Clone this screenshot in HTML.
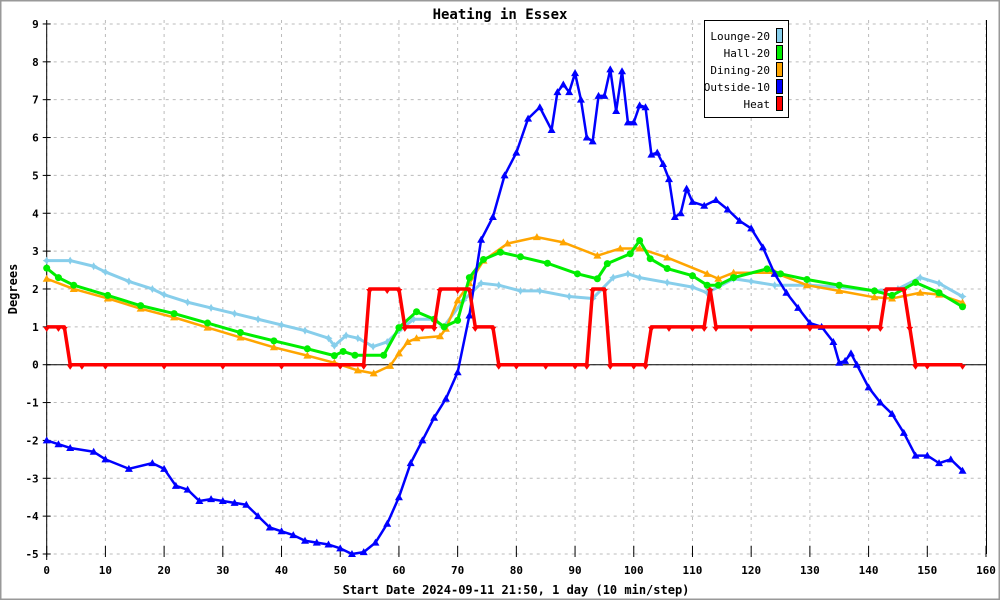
<!DOCTYPE html>
<html><head><meta charset="utf-8"><style>
body{margin:0;background:#fff;}
svg{display:block;font-family:"DejaVu Sans Mono","Liberation Mono",monospace;}
</style></head><body>
<svg id="chart" width="1000" height="600" viewBox="0 0 1000 600">
<rect x="0.5" y="0.5" width="999" height="599" fill="#fff" stroke="#999" stroke-width="2"/>
<text x="500" y="19" text-anchor="middle" font-size="14" font-weight="bold">Heating in Essex</text>
<text transform="translate(17,289) rotate(-90)" text-anchor="middle" font-size="12" font-weight="bold">Degrees</text>
<text x="516" y="594" text-anchor="middle" font-size="12" font-weight="bold">Start Date 2024-09-11 21:50, 1 day (10 min/step)</text>
<g id="grid"></g><g id="axes"></g><g id="series"></g>
<g>
<rect x="704.5" y="20.5" width="84" height="97" fill="#fff" stroke="#000"/>
<g font-size="11" text-anchor="end">
<text x="770" y="40">Lounge-20</text>
<text x="770" y="57">Hall-20</text>
<text x="770" y="74">Dining-20</text>
<text x="770" y="91">Outside-10</text>
<text x="770" y="108">Heat</text>
</g>
<rect x="776.5" y="28.5" width="6" height="14" fill="#87ceeb" stroke="#000"/>
<rect x="776.5" y="45.5" width="6" height="14" fill="#00ee00" stroke="#000"/>
<rect x="776.5" y="62.5" width="6" height="14" fill="#ffa500" stroke="#000"/>
<rect x="776.5" y="79.5" width="6" height="14" fill="#0000ff" stroke="#000"/>
<rect x="776.5" y="96.5" width="6" height="14" fill="#ff0000" stroke="#000"/>
</g>
</svg>
<script>
const xTicks=[0,10,20,30,40,50,60,70,80,90,100,110,120,130,140,150,160];
const yTicks=[-5,-4,-3,-2,-1,0,1,2,3,4,5,6,7,8,9];
const loungeX=[0,4,8,10,14,18,20,24,28,32,36,40,44,48,49,51,53,55.6,58,60,62.5,66,67.6,71,74,77,80.7,84,89,93,96.5,99,101,105.7,110,112.5,117,120,124,130,135,141,145,148.8,152,156];
const loungeY=[2.75,2.75,2.6,2.45,2.2,2.0,1.85,1.65,1.5,1.35,1.2,1.05,0.9,0.7,0.5,0.77,0.7,0.48,0.6,0.9,1.2,1.2,1.0,1.7,2.15,2.1,1.95,1.95,1.8,1.75,2.3,2.4,2.3,2.17,2.05,1.9,2.27,2.2,2.1,2.1,2.05,1.95,2.0,2.3,2.15,1.8];
const hallX=[0,2,4.6,10.4,16,21.7,27.4,33,38.7,44.4,49,50.5,52.5,57.4,60,63,66,67.7,70,72,74.4,77.3,80.7,85.3,90.4,93.8,95.5,99.4,101,102.8,105.7,110,112.5,114.4,117,122.7,125,129.5,135,141,144,148,152,156];
const hallY=[2.55,2.3,2.1,1.83,1.56,1.35,1.1,0.85,0.63,0.42,0.24,0.35,0.25,0.25,0.98,1.4,1.2,1.0,1.17,2.3,2.78,2.97,2.85,2.68,2.4,2.27,2.67,2.93,3.28,2.8,2.54,2.35,2.1,2.1,2.3,2.53,2.4,2.25,2.1,1.95,1.83,2.17,1.9,1.53];
const diningX=[0,4.6,10.4,16,21.7,27.4,33,38.7,44.4,49,53,55.7,58.5,60,61.5,63,67,68,70,72,74.4,78.5,83.5,88,93.8,97.7,101,105.7,112.5,114.4,117,124,129.5,135,141,144,148.8,152,156];
const diningY=[2.27,2.0,1.75,1.48,1.25,0.98,0.72,0.46,0.24,0.05,-0.15,-0.23,-0.03,0.3,0.6,0.7,0.75,0.95,1.7,2.15,2.75,3.2,3.37,3.23,2.88,3.07,3.07,2.83,2.4,2.27,2.43,2.43,2.1,1.95,1.78,1.75,1.9,1.85,1.64];
const outsideX=[0,2,4,8,10,14,18,20,22,24,26,28,30,32,34,36,38,40,42,44,46,48,50,52,54,56,58,60,62,64,66,68,70,72,74,76,78,80,82,84,86,87,88,89,90,91,92,93,94,95,96,97,98,99,100,101,102,103,104,105,106,107,108,109,110,112,114,116,118,120,122,124,126,128,130,132,134,135,136,137,138,140,142,144,146,148,150,152,154,156];
const outsideY=[-2.0,-2.1,-2.2,-2.3,-2.5,-2.75,-2.6,-2.75,-3.2,-3.3,-3.6,-3.55,-3.6,-3.65,-3.7,-4.0,-4.3,-4.4,-4.5,-4.65,-4.7,-4.75,-4.85,-5.0,-4.95,-4.7,-4.2,-3.5,-2.6,-2.0,-1.4,-0.9,-0.2,1.3,3.3,3.9,5.0,5.6,6.5,6.8,6.2,7.2,7.4,7.2,7.7,7.0,6.0,5.9,7.1,7.1,7.8,6.7,7.75,6.4,6.4,6.85,6.8,5.55,5.6,5.3,4.9,3.9,4.0,4.65,4.3,4.2,4.35,4.1,3.8,3.6,3.1,2.4,1.9,1.5,1.1,1.0,0.6,0.05,0.1,0.3,0.0,-0.6,-1.0,-1.3,-1.8,-2.4,-2.4,-2.6,-2.5,-2.8];
const heatX=[0,2,3,4,6,10,20,30,40,50,54,55,58,60,61,64,66,67,70,72,73,76,77,80,85,90,92,93,95,96,100,102,103,106,110,112,113,114,120,130,140,142,143,146,147,148,150,156];
const heatY=[1,1,1,0,0,0,0,0,0,0,0,2,2,2,1,1,1,2,2,2,1,1,0,0,0,0,0,2,2,0,0,0,1,1,1,1,2,1,1,1,1,1,2,2,1,0,0,0];

const X0=46.7,XS=(986-46.7)/160,Y0=364.7,YS=37.86;
const sx=v=>X0+v*XS, sy=v=>Y0-v*YS;
const NS="http://www.w3.org/2000/svg";
function mk(tag,attrs,parent){const e=document.createElementNS(NS,tag);for(const k in attrs)e.setAttribute(k,attrs[k]);parent.appendChild(e);return e;}
const grid=document.getElementById('grid'),axes=document.getElementById('axes'),ser=document.getElementById('series');
xTicks.forEach(t=>{
  const l=mk('line',{x1:sx(t),x2:sx(t),y1:sy(9)-4,y2:sy(-5),stroke:'#bbb','stroke-dasharray':'3,4'},grid);
  
  
  const tk=mk('line',{x1:sx(t),x2:sx(t),y1:sy(-5)-8,y2:sy(-5)+3,stroke:'#000'},axes);
  
  
  const tx=mk('text',{x:sx(t),y:sy(-5)+20,'text-anchor':'middle','font-size':'11','font-weight':'bold'},axes);
  tx.textContent=t;
  
  
});
yTicks.forEach(t=>{
  const l=mk('line',{x1:sx(0),x2:sx(160),y1:sy(t),y2:sy(t),stroke:'#bbb','stroke-dasharray':'3,4'},grid);
  
  
  const tk=mk('line',{x1:sx(0)-4,x2:sx(0)+4,y1:sy(t),y2:sy(t),stroke:'#000'},axes);
  
  
  const tx=mk('text',{x:sx(0)-8,y:sy(t)+4,'text-anchor':'end','font-size':'11','font-weight':'bold'},axes);
  tx.textContent=t;
  
  
});
const ya=mk('line',{x1:sx(0),x2:sx(0),y1:sy(9)-4,y2:sy(-5)+6,stroke:'#000'},axes);


const ra=mk('line',{x1:sx(160)+0.5,x2:sx(160)+0.5,y1:sy(9)-4,y2:sy(-5),stroke:'#000'},axes);


const za=mk('line',{x1:sx(0),x2:sx(160),y1:sy(0),y2:sy(0),stroke:'#000'},axes);



function marker(type,x,y,c,g){
  let e;
  if(type==='circle')e=mk('circle',{cx:x,cy:y,r:3.5,fill:c},g);
  else if(type==='up')e=mk('polygon',{points:`${x},${y-4} ${x-4},${y+3} ${x+4},${y+3}`,fill:c},g);
  else if(type==='down')e=mk('polygon',{points:`${x-3.5},${y} ${x+3.5},${y} ${x},${y+5}`,fill:c},g);
  else e=mk('polygon',{points:`${x},${y-4} ${x+1.5},${y-1.5} ${x+4},${y} ${x+1.5},${y+1.5} ${x},${y+4} ${x-1.5},${y+1.5} ${x-4},${y} ${x-1.5},${y-1.5}`,fill:c},g);
  
  
}
function series(name,xs,ys,c,type,w){
  const g=mk('g',{},ser);
  
  
  const pts=xs.map((x,i)=>sx(x)+','+sy(ys[i])).join(' ');
  const pl=mk('polyline',{points:pts,fill:'none',stroke:c,'stroke-width':w,'stroke-linejoin':'round'},g);
  
  
  xs.forEach((x,i)=>marker(type,sx(x),sy(ys[i]),c,g));
}
series('lounge-series',loungeX,loungeY,'#87ceeb','star',3);
series('dining-series',diningX,diningY,'#ffa500','up',2.5);
series('hall-series',hallX,hallY,'#00ee00','circle',3);
series('outside-series',outsideX,outsideY,'#0000ff','up',2.5);
series('heat-series',heatX,heatY,'#ff0000','down',3.5);
</script>
</body></html>
